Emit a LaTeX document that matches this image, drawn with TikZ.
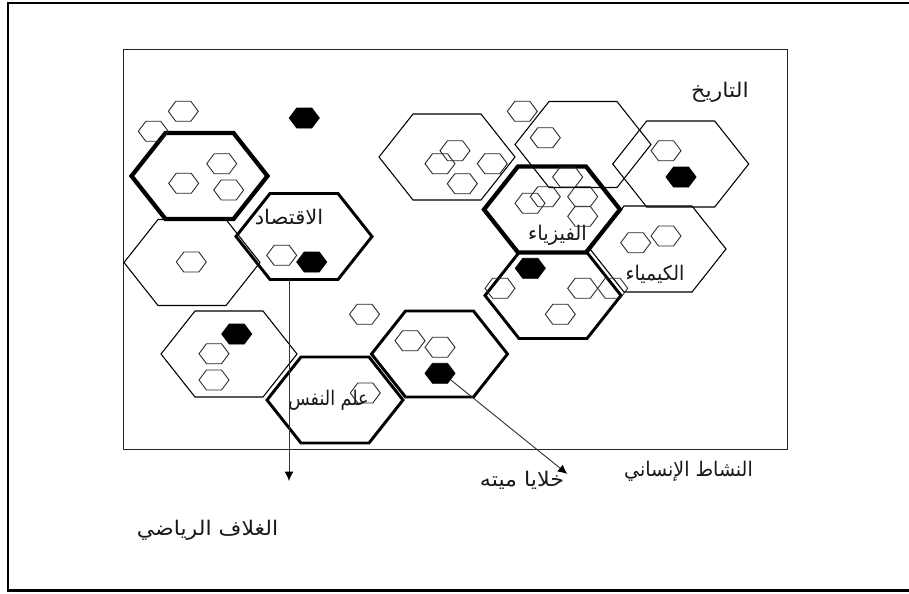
\documentclass[tikz,border=0pt]{standalone}
\usepackage{graphicx}
\usepackage{fontspec}
\newfontfamily\arabicfont[Script=Arabic]{DejaVu Sans}
\TeXXeTstate=1
\usetikzlibrary{arrows.meta,calc}
\newcommand{\bighex}[4]{%
  \coordinate (#1) at (#2,#3);
  \draw[#4] ($(#1)+(-68,0)$) -- ($(#1)+(-34,-43)$) -- ($(#1)+(34,-43)$) -- ($(#1)+(68,0)$) -- ($(#1)+(34,43)$) -- ($(#1)+(-34,43)$) -- cycle;}
\newcommand{\smallhex}[4]{%
  \coordinate (#1) at (#2,#3);
  \draw[#4] ($(#1)+(-15,0)$) -- ($(#1)+(-7.5,-10)$) -- ($(#1)+(7.5,-10)$) -- ($(#1)+(15,0)$) -- ($(#1)+(7.5,10)$) -- ($(#1)+(-7.5,10)$) -- cycle;}
\tikzset{
  x=0.75pt,y=-0.75pt,
  thincell/.style={draw=black,line width=0.8pt,line join=miter},
  midcell/.style={draw=black,line width=2.2pt,line join=miter},
  boldcell/.style={draw=black,line width=3.2pt,line join=miter},
  minicell/.style={draw=black!85,line width=0.65pt},
  deadcell/.style={draw=black,fill=black,line width=0.6pt},
  framerule/.style={draw=black,line width=1.7pt},
  arrowline/.style={draw=black!80,line width=0.7pt,-{Latex[length=7pt,width=6.5pt,black]}},
  arlabel/.style={inner sep=0pt,font=\arabicfont\fontsize{14}{16}\selectfont,text=black!90},
}
\begin{document}
\begin{tikzpicture}
\useasboundingbox (0,0) rectangle (909,593);
\fill[white] (0,0) rectangle (909,593);
% outer frame
\coordinate (ftr) at (909,2.7);
\coordinate (ftl) at (7.7,2.7);
\coordinate (fbl) at (7.7,590.5);
\coordinate (fbr) at (909,590.5);
\draw[framerule,line cap=rect] (ftr) -- (ftl) -- (fbl);
\draw[draw=black,line width=2.6pt] (fbl) -- (fbr);
% inner rectangle
\draw[draw=black!85,line width=0.75pt] (123.3,49.5) rectangle (787.3,449.3);
% large cells
\bighex{ca}{199.5}{176}{boldcell}
\bighex{cb}{192}{262.5}{thincell}
\bighex{cc}{304}{236.5}{midcell}
\bighex{cd}{229}{354}{thincell}
\bighex{ce}{335}{400}{midcell}
\bighex{cf}{439.5}{354}{midcell}
\bighex{cg}{447}{157}{thincell}
\bighex{ch}{583}{144.5}{thincell}
\bighex{ci}{680.7}{164}{thincell}
\bighex{cj}{552}{209.5}{boldcell}
\bighex{ck}{658}{249}{thincell}
\bighex{cl}{553}{295.5}{midcell}
% small cells
\smallhex{s1}{183.3}{111.3}{minicell}
\smallhex{s2}{153.3}{131.3}{minicell}
\smallhex{s3}{221.7}{163.7}{minicell}
\smallhex{s4}{183.7}{183.3}{minicell}
\smallhex{s5}{228.7}{190}{minicell}
\smallhex{s6}{191.3}{262}{minicell}
\smallhex{s7}{281.7}{255.3}{minicell}
\smallhex{s8}{364.5}{314.3}{minicell}
\smallhex{s9}{522.3}{111.3}{minicell}
\smallhex{s10}{545.3}{137.7}{minicell}
\smallhex{s11}{666}{150.7}{minicell}
\smallhex{s12}{455}{150.7}{minicell}
\smallhex{s13}{440}{163.7}{minicell}
\smallhex{s14}{492.3}{163.7}{minicell}
\smallhex{s15}{462.3}{183.7}{minicell}
\smallhex{s16}{567.7}{177}{minicell}
\smallhex{s17}{545.3}{196.7}{minicell}
\smallhex{s18}{530}{203.3}{minicell}
\smallhex{s19}{582.7}{196.7}{minicell}
\smallhex{s20}{582.7}{216.3}{minicell}
\smallhex{s21}{666}{236}{minicell}
\smallhex{s22}{635.7}{242.7}{minicell}
\smallhex{s23}{500}{288.3}{minicell}
\smallhex{s24}{582.7}{288.3}{minicell}
\smallhex{s25}{612.7}{288.3}{minicell}
\smallhex{s26}{560.3}{314.3}{minicell}
\smallhex{s27}{214}{353.7}{minicell}
\smallhex{s28}{214}{380}{minicell}
\smallhex{s29}{410}{340.7}{minicell}
\smallhex{s30}{440}{347.3}{minicell}
\smallhex{s31}{365.3}{393}{minicell}
% dead cells
\smallhex{d1}{304.3}{118}{deadcell}
\smallhex{d2}{311.7}{262}{deadcell}
\smallhex{d3}{681}{177}{deadcell}
\smallhex{d4}{530.3}{268.3}{deadcell}
\smallhex{d5}{236.7}{334}{deadcell}
\smallhex{d6}{440}{373.3}{deadcell}
% labels
\node[arlabel] (t1) at (720,92) {\scalebox{1.19}[1.08]{\beginR التاريخ\endR}};
\node[arlabel] (t2) at (655,274) {\scalebox{1.02}[1.08]{\beginR الكيمياء\endR}};
\node[arlabel] (t3) at (557.5,235) {\scalebox{1.05}[1.08]{\beginR الفيزياء\endR}};
\node[arlabel] (t4) at (289,217) {\scalebox{1.13}[1.08]{\beginR الاقتصاد\endR}};
\node[arlabel] (t5) at (328.5,400) {\scalebox{0.94}[1.08]{\beginR علم النفس\endR}};
\node[arlabel] (t6) at (522,480) {\scalebox{1.19}[1.08]{\beginR خلايا ميته\endR}};
\node[arlabel] (t7) at (688.5,471) {\scalebox{1.02}[1.08]{\beginR النشاط الإنساني\endR}};
\node[arlabel] (t8) at (207.5,530) {\scalebox{1.18}[1.08]{\beginR الغلاف الرياضي\endR}};
% connectors
\coordinate (a1s) at (289,279);
\coordinate (a1e) at (289,481);
\coordinate (a2s) at (450,379.3);
\coordinate (a2e) at (567.3,474);
\draw[arrowline] (a1s) -- (a1e);
\draw[arrowline] (a2s) -- (a2e);
\end{tikzpicture}
\end{document}
